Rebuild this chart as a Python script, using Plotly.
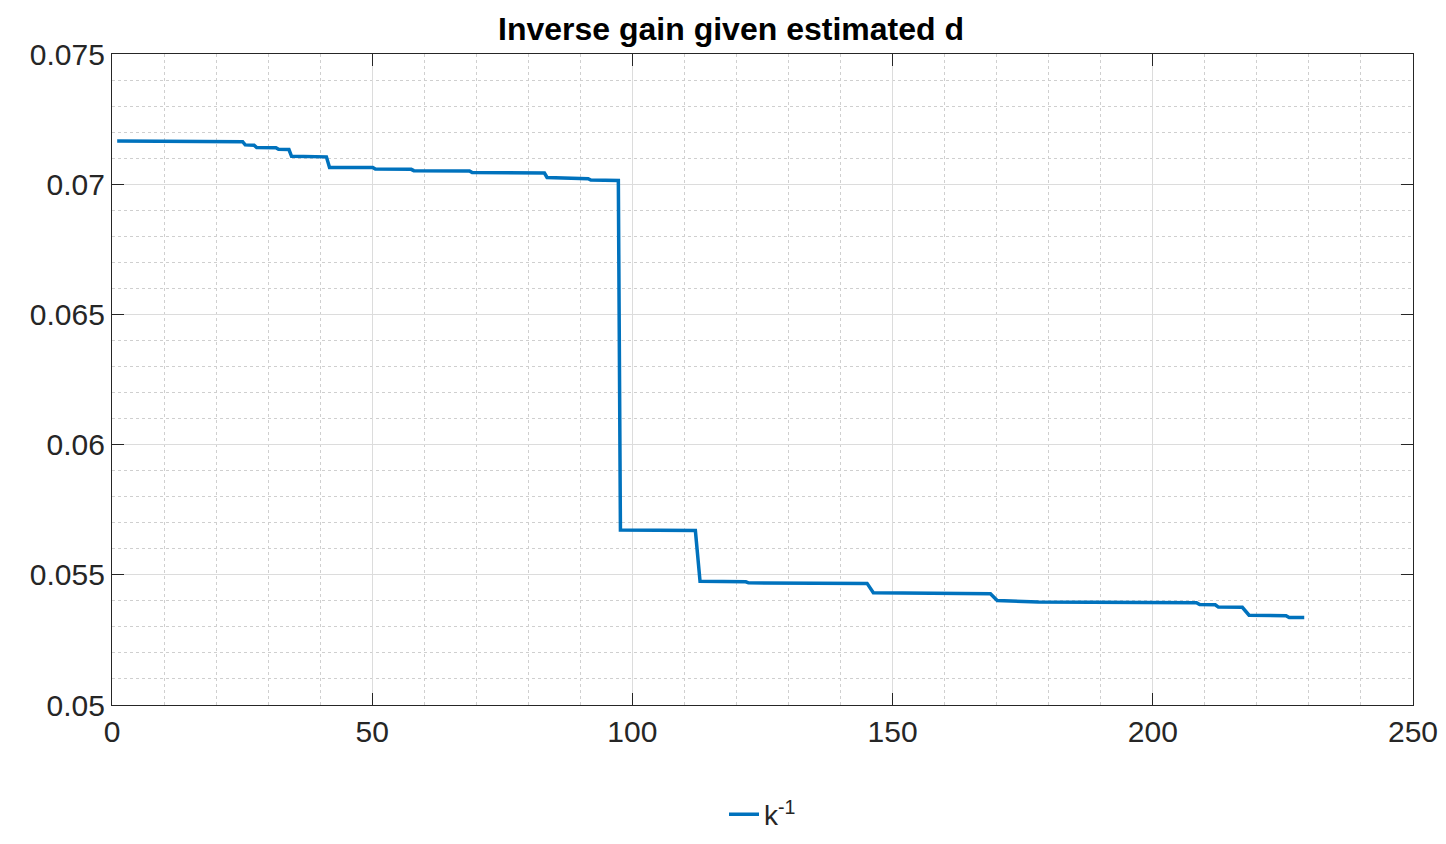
import plotly.graph_objects as go

x_vals = [1, 25.1, 25.6, 27.3, 27.8, 31.5, 32.0, 34.0, 34.5, 41.2, 41.8, 50.1, 50.6, 57.5, 58.0, 68.7, 69.2,
          76.0, 83.1, 83.6, 87.6, 88.1, 91.5, 92.0, 96.9, 97.3, 97.7, 112.1, 113.0, 121.8, 122.3,
          145.1, 146.3, 168.8, 170.1, 178.0, 208.4, 209.0, 212.0, 212.6, 217.2, 218.5, 225.6, 226.2, 229.1]
y_vals = [0.07166, 0.07163, 0.07151, 0.07150, 0.07141, 0.07140, 0.07134, 0.07133, 0.07107, 0.07105, 0.07064, 0.07064,
          0.07058, 0.07057, 0.07052, 0.07051, 0.07045, 0.07044, 0.07043, 0.07026, 0.07025, 0.07022, 0.07021, 0.07016,
          0.07015, 0.07014, 0.05672, 0.05670, 0.05475, 0.05473, 0.05469, 0.05467, 0.05431, 0.05427, 0.05401,
          0.05396, 0.05393, 0.05386, 0.05385, 0.05376, 0.05375, 0.05345, 0.05343, 0.05336, 0.05336]

fig = go.Figure()
fig.add_trace(go.Scatter(x=x_vals, y=y_vals, mode="lines", name="k<sup>-1</sup>",
                         line=dict(color="#0072BD", width=3.5)))

axis_common = dict(showline=True, linecolor="#262626", linewidth=1.2, mirror="ticks",
                   ticks="inside", ticklen=12, tickcolor="#262626",
                   showgrid=True, gridcolor="#dcdcdc", gridwidth=1,
                   tickfont=dict(size=30, color="#262626"), zeroline=False)
fig.update_xaxes(range=[0, 250], dtick=50,
                 minor=dict(dtick=10, showgrid=True, gridcolor="#cfcfcf", griddash="dot", ticks=""),
                 **axis_common)
fig.update_yaxes(range=[0.05, 0.075], tickvals=[0.05, 0.055, 0.06, 0.065, 0.07, 0.075],
                 ticktext=["0.05", "0.055", "0.06", "0.065", "0.07", "0.075"],
                 minor=dict(dtick=0.001, showgrid=True, gridcolor="#cfcfcf", griddash="dot", ticks=""),
                 **axis_common)
fig.update_layout(
    width=1446, height=844,
    paper_bgcolor="white", plot_bgcolor="white",
    font=dict(family="Liberation Sans, Arial, sans-serif", color="#262626"),
    title=dict(text="<b>Inverse gain given estimated d</b>", x=0.5, xanchor="center",
               y=0.975, yanchor="middle", font=dict(size=32, color="black")),
    margin=dict(l=104, r=41, t=46, b=98),
    showlegend=True,
    legend=dict(orientation="h", x=0.5, xanchor="center", y=-0.13, yanchor="top",
                font=dict(size=28, color="#262626"), bgcolor="rgba(0,0,0,0)"),
)
fig.write_html("out.html")
